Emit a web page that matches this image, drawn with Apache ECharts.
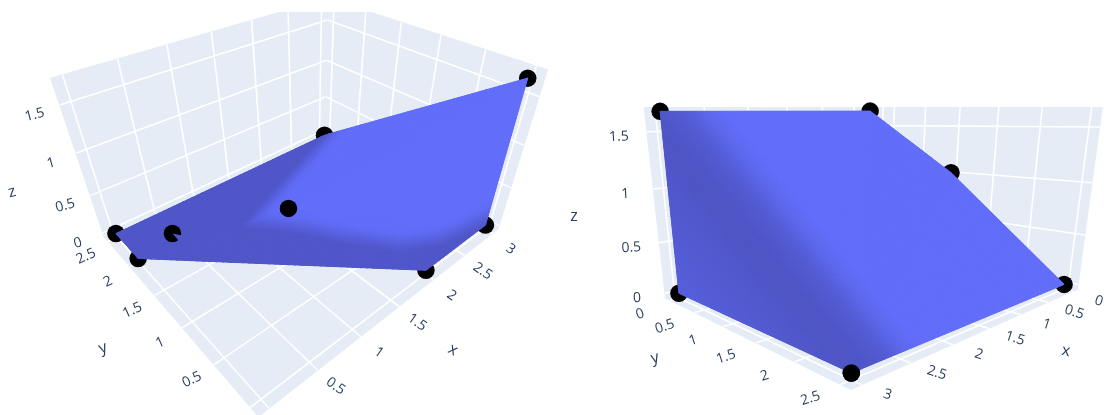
<!DOCTYPE html>
<html><head><meta charset="utf-8">
<style>html,body{margin:0;padding:0;background:#fff}#c{width:1104px;height:415px}</style>
<script src="https://cdn.jsdelivr.net/npm/echarts@6/dist/echarts.min.js"></script>
</head><body><div id="c"></div>
<script>
// ---- data ----
const pointNames = ['C','A','H','G','B','E','F','D'];
const pointX = [0.33, 3, 3, 2, 3, 0, 0, 0];
const pointY = [0, 0, 0, 0, 2.5, 2.5, 2, 1];
const pointZ = [1.67, 1.67, 0, 0, 0, 0, 0, 1];
const xTicks = [0, 0.5, 1, 1.5, 2, 2.5, 3];
const yTicks = [0, 0.5, 1, 1.5, 2, 2.5];
const zTicks = [0, 0.5, 1, 1.5];
const xRange = [-0.1, 3.1], yRange = [-0.1, 2.6], zRange = [-0.05, 1.75];
const leftFaceI = [0,0,0,0,0,0], leftFaceJ = [5,6,3,2,1,4], leftFaceK = [6,3,2,1,4,5];
const rightFaceI = [4,4,4,4], rightFaceJ = [2,1,0,7], rightFaceK = [1,0,7,5];

// ---- camera anchors: [x,y,z,screenX,screenY] ----
const xa=xRange, ya=yRange, za=zRange;
const leftAnchors = [
 [0,0,0,258,398],[3,0,0,485,227],[2,0,0,425,273],[0,2.5,0,114,234],[0,2,0,137,260],[3,2.5,0,323,136],
 [3,0,1.67,530,79],[0.33,0,1.67,290,209],
 [xa[0],ya[1],1.5,58,102],[xa[0],ya[1],1,76,152],[xa[0],ya[1],.5,92,195],
 [xa[1],ya[0],za[1],545,72],[xa[0],ya[1],za[1],51,78],
 [xa[0],ya[1],za[0],108,238],[xa[1],ya[0],za[0],501,222],[xa[0],ya[0],za[0],258,414]
];
const rightAnchors = [
 [3,2.5,0,850,375],[3,0,0,677,292],[0,2.5,0,1068,281],[3,0,1.67,658,112],
 [0.33,0,1.67,875,110],[0.33,0,1.67,875,110],[0,1,1,957,171],
 [xa[0],ya[1],1.5,1097,131],[xa[0],ya[1],1,1090,184],[xa[0],ya[1],.5,1085,232],
 [xa[0],ya[0],1.5,883,125],[xa[0],ya[0],1,883,165],[xa[0],ya[0],.5,883,212],
 [xa[1],ya[1],za[0],847,390],[xa[0],ya[1],za[0],1078,290],[xa[1],ya[0],za[0],670,298],
 [xa[1],ya[0],1.5,647,132],[xa[1],ya[0],1,653,188],[xa[1],ya[0],.5,660,243]
];
function solve(A,b){const n=b.length;A=A.map((r,i)=>r.concat(b[i]));
 for(let c=0;c<n;c++){let p=c;for(let r=c+1;r<n;r++)if(Math.abs(A[r][c])>Math.abs(A[p][c]))p=r;
  [A[c],A[p]]=[A[p],A[c]];
  for(let r=0;r<n;r++){if(r===c)continue;const f=A[r][c]/A[c][c];for(let k=c;k<=n;k++)A[r][k]-=f*A[c][k];}}
 return A.map((r,i)=>r[n]/r[i]);}
function lsq(rows,rhs){const n=rows[0].length;const M=[...Array(n)].map(()=>Array(n).fill(0)),v=Array(n).fill(0);
 rows.forEach((r,q)=>{for(let i=0;i<n;i++){v[i]+=r[i]*rhs[q];for(let j=0;j<n;j++)M[i][j]+=r[i]*r[j];}});
 return solve(M,v);}
function fit(a){const R=[],B=[];a.forEach(([X,Y,Z,u,v])=>{
  R.push([X,Y,Z,1,0,0,0,0,-u*X,-u*Y,-u*Z]);B.push(u);
  R.push([0,0,0,0,X,Y,Z,1,-v*X,-v*Y,-v*Z]);B.push(v);});
 return lsq(R,B);}
const camL=fit(leftAnchors), camR=fit(rightAnchors);
const proj=(c,X,Y,Z)=>{const w=c[8]*X+c[9]*Y+c[10]*Z+1;return[(c[0]*X+c[1]*Y+c[2]*Z+c[3])/w,(c[4]*X+c[5]*Y+c[6]*Z+c[7])/w];};

// ---- shading ----
const dark=[0x4e,0x55,0xc4], bright=[0x63,0x6e,0xfa];
function ramp(stops,t){if(t<=stops[0][0])return stops[0][1];for(let i=1;i<stops.length;i++){if(t<=stops[i][0]){const a=stops[i-1],b=stops[i];return a[1]+(b[1]-a[1])*(t-a[0])/(b[0]-a[0]);}}return stops[stops.length-1][1];}
const profR=[[-115,.4],[-80,.25],[-45,.04],[-25,.05],[-10,.2],[0,.38],[15,.8],[30,1]];
const shadeFnR=(x,y)=>ramp(profR,(x-760)*.77-(y-200)*.637);
const lowerEdge=[[200,222],[250,222],[300,228],[343,237],[400,246],[440,240],[480,222],[540,190]];
const profLow=[[-8,.03],[0,.4],[10,.9],[16,1]], profLeft=[[-3,.05],[0,.12],[10,.85],[16,1]];
const shadeFnL=(x,y)=>{const yb=ramp(lowerEdge,x);const low=ramp(profLow,yb-y);const left=ramp(profLeft,(x-323)*.743+(y-136)*.669);return Math.max(.08,Math.min(low,left));};
function colorOf(fn,x,y){const v=fn(x,y);return'rgb('+dark.map((c,i)=>Math.round(c+(bright[i]-c)*v)).join(',')+')';}

const FS=14, TC='#2a3f5f';
const scenes=[
 {cam:camL,grid:0,walls:[['z',zRange[0]],['y',yRange[1]],['x',xRange[1]]],shade:shadeFnL,fi:leftFaceI,fj:leftFaceJ,fk:leftFaceK,N:44,
  xEdge:[yRange[0],zRange[0]],yEdge:[xRange[0],zRange[0]],zEdge:[xRange[0],yRange[1]],
  off:{x:[18,16,35],y:[-22,15,-25],z:[-25,10,-15]},
  titles:[['z',12,192,-15],['y',103,348,-20],['x',453,350,30]],top:[0,7],notch:7},
 {cam:camR,grid:1,walls:[['z',zRange[0]],['x',xRange[0]],['y',yRange[0]]],shade:shadeFnR,fi:rightFaceI,fj:rightFaceJ,fk:rightFaceK,N:64,
  xEdge:[yRange[1],zRange[0]],yEdge:[xRange[1],zRange[0]],zEdge:[xRange[1],yRange[0]],
  off:{x:[26,10,18],y:[-30,14,-18],z:[-28,5,-3]},
  titles:[['z',574,216,0],['y',655,358,-15],['x',1066,351,10]],top:[4],notch:-1}
];
function wallGeom(w){const [a,v]=w;const P=(p,q)=>a==='x'?[v,p,q]:a==='y'?[p,v,q]:[p,q,v];
 const [r1,r2,t1,t2]=a==='x'?[yRange,zRange,yTicks,zTicks]:a==='y'?[xRange,zRange,xTicks,zTicks]:[xRange,yRange,xTicks,yTicks];
 return{poly:[P(r1[0],r2[0]),P(r1[1],r2[0]),P(r1[1],r2[1]),P(r1[0],r2[1])],
  lines:t1.map(t=>[P(t,r2[0]),P(t,r2[1])]).concat(t2.map(t=>[P(r1[0],t),P(r1[1],t)]))};}

const series=[];
scenes.forEach((s,si)=>{
 const ax={xAxisIndex:si,yAxisIndex:si};
 series.push({type:'custom',...ax,coordinateSystem:'cartesian2d',clip:true,z:1,silent:true,animation:false,data:s.walls.map((w,i)=>[i]),
  renderItem:(p,api)=>{const g=wallGeom(s.walls[p.dataIndex]);const c=[];
   const co=q=>api.coord(proj(s.cam,q[0],q[1],q[2]));
   c.push({type:'polygon',shape:{points:g.poly.map(co)},style:{fill:'#E5ECF6',stroke:'#E5ECF6',lineWidth:1}});
   g.lines.forEach(l=>c.push({type:'line',shape:{x1:co(l[0])[0],y1:co(l[0])[1],x2:co(l[1])[0],y2:co(l[1])[1]},style:{stroke:'#fff',lineWidth:1.6}}));
   return{type:'group',children:c};}});
 const pts=pointX.map((x,i)=>proj(s.cam,x,pointY[i],pointZ[i]));
 series.push({type:'scatter',...ax,clip:false,z:2,silent:true,animation:false,symbolSize:17.5,itemStyle:{color:'#000',opacity:1},data:pts});
 series.push({type:'custom',...ax,clip:false,z:3,silent:true,animation:false,progressive:0,data:s.fi.map((v,i)=>[v,s.fj[i],s.fk[i]]),
  renderItem:(p,api)=>{const tri=[api.value(0),api.value(1),api.value(2)].map(i=>pts[i]);const N=s.N,c=[];
   c.push({type:'polygon',shape:{points:tri.map(v=>api.coord(v))},style:{fill:'#5a64e2'}});
   const at=(a,b)=>{const e=N-a-b;return[(tri[0][0]*a+tri[1][0]*b+tri[2][0]*e)/N,(tri[0][1]*a+tri[1][1]*b+tri[2][1]*e)/N];};
   const add=(q)=>{const cx=(q[0][0]+q[1][0]+q[2][0])/3,cy=(q[0][1]+q[1][1]+q[2][1])/3;const f=colorOf(s.shade,cx,cy);
    c.push({type:'polygon',shape:{points:q.map(v=>api.coord(v))},style:{fill:f,stroke:f,lineWidth:1}});};
   for(let a=0;a<N;a++)for(let b=0;b<N-a;b++){add([at(a,b),at(a+1,b),at(a,b+1)]);if(a+b<N-1)add([at(a+1,b),at(a+1,b+1),at(a,b+1)]);}
   return{type:'group',children:c};}});
 series.push({type:'scatter',...ax,clip:false,z:4,silent:true,animation:false,symbolSize:17.5,itemStyle:{color:'#000',opacity:1},data:s.top.map(i=>pts[i])});
 if(s.notch>=0){const D=pts[s.notch];
  series.push({type:'custom',...ax,clip:false,z:5,silent:true,animation:false,data:[[0]],
   renderItem:(p,api)=>{const r=11,a1=12*Math.PI/180,a2=48*Math.PI/180;const q=[D,[D[0]+r*Math.cos(a1),D[1]+r*Math.sin(a1)],[D[0]+r*Math.cos(a2),D[1]+r*Math.sin(a2)]];
    return{type:'polygon',shape:{points:q.map(v=>api.coord(v))},style:{fill:colorOf(s.shade,D[0]+8,D[1]+4)}};}});
 }
 const labs=[];
 xTicks.forEach(t=>labs.push([...proj(s.cam,t,s.xEdge[0],s.xEdge[1]),String(t),'x']));
 yTicks.forEach(t=>labs.push([...proj(s.cam,s.yEdge[0],t,s.yEdge[1]),String(t),'y']));
 zTicks.forEach(t=>labs.push([...proj(s.cam,s.zEdge[0],s.zEdge[1],t),String(t),'z']));
 series.push({type:'custom',...ax,clip:false,z:6,silent:true,animation:false,data:labs.map((l,i)=>[l[0],l[1],i]),
  renderItem:(p,api)=>{const l=labs[p.dataIndex],o=s.off[l[3]],c=api.coord([l[0]+o[0],l[1]+o[1]]);
   return{type:'text',x:c[0],y:c[1],rotation:-o[2]*Math.PI/180,style:{text:l[2],x:0,y:0,align:'center',verticalAlign:'middle',fill:TC,font:FS+'px "Open Sans"'}};}});
 series.push({type:'custom',...ax,clip:false,z:6,silent:true,animation:false,data:s.titles.map((t,i)=>[t[1],t[2],i]),
  renderItem:(p,api)=>{const t=s.titles[p.dataIndex],c=api.coord([t[1],t[2]]);
   return{type:'text',x:c[0],y:c[1],rotation:-t[3]*Math.PI/180,style:{text:t[0],x:0,y:0,align:'center',verticalAlign:'middle',fill:TC,font:'16px "Open Sans"'}};}});
});
const chart=echarts.init(document.getElementById('c'),null,{renderer:'canvas'});
chart.setOption({animation:false,backgroundColor:'#fff',
 grid:[{left:0,top:12,width:552,height:403},{left:552,top:107,width:552,height:308}],
 xAxis:[{type:'value',gridIndex:0,min:0,max:552,show:false},{type:'value',gridIndex:1,min:552,max:1104,show:false}],
 yAxis:[{type:'value',gridIndex:0,min:12,max:415,inverse:true,show:false},{type:'value',gridIndex:1,min:107,max:415,inverse:true,show:false}],
 series});
</script></body></html>
